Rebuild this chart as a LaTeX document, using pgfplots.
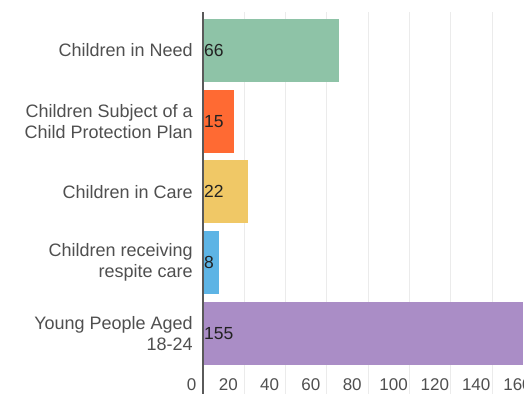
\documentclass[border=0pt]{standalone}
\usepackage{fontspec}
\setmainfont{Liberation Sans}
\usepackage{pgfplots}
\pgfplotsset{compat=1.18}
\definecolor{cgreen}{HTML}{8EC3A7}
\definecolor{corange}{HTML}{FF6A33}
\definecolor{cyellow}{HTML}{F0C866}
\definecolor{cblue}{HTML}{5DB4E5}
\definecolor{cpurple}{HTML}{AA8DC6}
\definecolor{gridc}{HTML}{EBEBEB}
\definecolor{axisc}{HTML}{5A5A5A}
\definecolor{labc}{HTML}{4F4F4F}
\definecolor{valc}{HTML}{222222}
\begin{document}
\begin{tikzpicture}
\begin{axis}[
  scale only axis, width=330.6pt, height=382pt,
  xmin=0, xmax=160, ymin=-0.859, ymax=4.5446,
  axis line style={draw=none},
  xtick={0,20,...,160},
  xticklabels={\phantom{0}0,20,40,60,80,100,120,140,160},
  major tick length=0pt,
  tick style={draw=none},
  xmajorgrids, grid style={gridc, line width=1pt},
  ytick={0,1,2,3,4},
  yticklabels={{Young People Aged\\18-24},{Children receiving\\respite care},{Children in Care},{Children Subject of a\\Child Protection Plan},{Children in Need}},
  yticklabel style={align=right, anchor=east, inner sep=0pt, xshift=-10pt, font=\fontsize{18}{21}\selectfont, text=labc},
  xticklabel style={anchor=base, inner sep=0pt, yshift=3pt, xshift=-16pt, font=\fontsize{17}{20}\selectfont, text=labc},
  bar width=0.89, bar shift=0pt,
  clip=false,
]
\addplot[xbar, fill=cgreen, draw=none] coordinates {(66,4)};
\addplot[xbar, fill=corange, draw=none] coordinates {(15,3)};
\addplot[xbar, fill=cyellow, draw=none] coordinates {(22,2)};
\addplot[xbar, fill=cblue, draw=none] coordinates {(8,1)};
\addplot[xbar, fill=cpurple, draw=none] coordinates {(155,0)};
\addplot[axisc, line width=1.3pt, mark=none] coordinates {(0,-0.859) (0,4.5446)};
\addplot[draw=none, mark=none, nodes near coords, point meta=explicit symbolic,
  nodes near coords style={anchor=west, inner sep=1pt, font=\fontsize{17.5}{20}\selectfont, text=valc}]
  coordinates {(0,4) [66] (0,3) [15] (0,2) [22] (0,1) [8] (0,0) [155]};
\coordinate (BL) at (axis cs:0,-0.859);
\coordinate (TR) at (axis cs:155.4,4.5446);
\end{axis}
\pgfresetboundingbox
\path[use as bounding box] ([xshift=-203pt]BL) rectangle ([yshift=12pt]TR);
\end{tikzpicture}
\end{document}
